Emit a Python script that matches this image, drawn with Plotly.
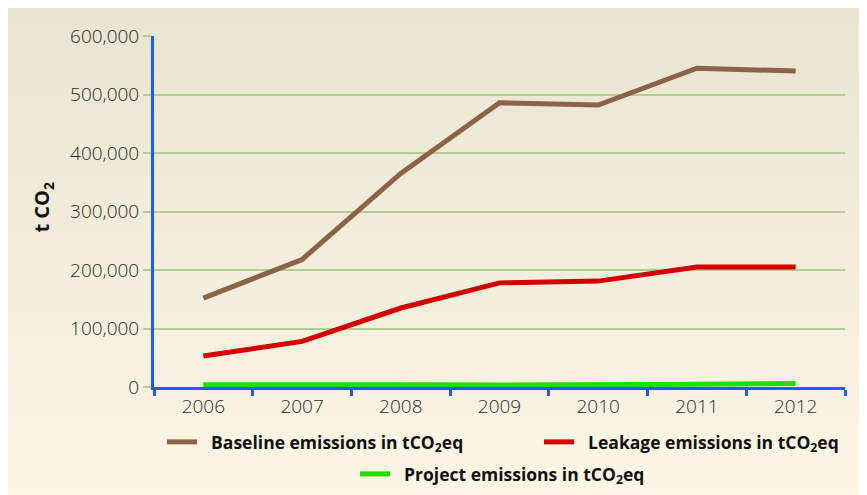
import plotly.graph_objects as go

years = ["2006", "2007", "2008", "2009", "2010", "2011", "2012"]
baseline = [152000, 218000, 365000, 486000, 482000, 545000, 540000]
leakage = [53000, 78000, 135000, 178000, 181000, 205000, 205000]
project = [4000, 5000, 4000, 3500, 3500, 4500, 6000]

# page is offset by 8px (body margin); work in figure coordinates
OFF = 8
W, H = 867, 495
L, T = 154 - OFF, 36 - OFF
R = W - (845 - OFF)
B = H - (388 - OFF)
PW, PH = W - L - R, H - T - B

def px_x(p):  # page pixel -> paper
    return (p - OFF - L) / PW

def px_y(p):
    return (H - B - (p - OFF)) / PH

SP = "\u00a0\u00a0"

fig = go.Figure()

fig.add_trace(go.Scatter(x=years, y=baseline, mode="lines", name=SP + "Baseline emissions in tCO<sub>2</sub>eq",
                         line=dict(color="#8c6249", width=5), legend="legend"))
fig.add_trace(go.Scatter(x=years, y=leakage, mode="lines", name=SP + "Leakage emissions in tCO<sub>2</sub>eq",
                         line=dict(color="#d40000", width=5), legend="legend2"))
fig.add_trace(go.Scatter(x=years, y=project, mode="lines", name=SP + "Project emissions in tCO<sub>2</sub>eq",
                         line=dict(color="#1ee000", width=5), legend="legend3"))

# gradient background
shapes = []
n = 60
top = (231, 229, 209)
bot = (252, 246, 229)
for i in range(n):
    f = i / (n - 1)
    c = tuple(round(top[k] + (bot[k] - top[k]) * f) for k in range(3))
    p0 = H * i / n
    p1 = H * (i + 1) / n + 0.8
    shapes.append(dict(type="rect", xref="paper", yref="paper", layer="below",
                       x0=-L / PW - 0.01, x1=(W - L) / PW + 0.01,
                       y0=(H - B - min(p1, H + 2)) / PH, y1=(H - B - p0) / PH,
                       line=dict(width=0), fillcolor="rgb(%d,%d,%d)" % c))

legfont = dict(family="Open Sans", size=17.5, color="#111111", weight="bold")

def leg(xp, yp):
    return dict(orientation="h", x=px_x(xp), y=px_y(yp), xanchor="left", yanchor="middle",
                bgcolor="rgba(0,0,0,0)", font=legfont, itemwidth=30, visible=True)

fig.update_layout(
    width=W, height=H,
    margin=dict(l=L, r=R, t=T, b=B),
    paper_bgcolor="white",
    plot_bgcolor="rgba(0,0,0,0)",
    shapes=shapes,
    showlegend=True,
    font=dict(family="Open Sans", size=19, color="#2a2a2a"),
    legend=leg(162, 442),
    legend2=leg(539, 442),
    legend3=leg(355, 474),
    xaxis=dict(type="category", range=[-0.5, 6.5], tickson="boundaries", showgrid=False,
               showline=True, linecolor="#1a5cff", linewidth=3,
               ticks="outside", ticklen=6, tickwidth=3, tickcolor="#1a5cff",
               tickfont=dict(family="Open Sans", size=19, color="#2a2a2a", weight=300)),
    yaxis=dict(range=[0, 600000], tickvals=[0, 100000, 200000, 300000, 400000, 500000, 600000],
               tickformat=",", showgrid=True, gridcolor="#b5cc92", gridwidth=1.5,
               zeroline=False, showline=True, linecolor="#1a5cff", linewidth=3,
               ticks="outside", ticklen=8, tickwidth=1.5, tickcolor="#b5cc92",
               tickfont=dict(family="Open Sans", size=19, color="#2a2a2a", weight=300)),
    annotations=[dict(text="<b>t CO<sub>2</sub></b>", xref="paper", yref="paper",
                      x=px_x(43), y=px_y(208), xanchor="center", yanchor="middle",
                      textangle=-90, showarrow=False,
                      font=dict(family="Open Sans", size=20, color="#111111"))],
)

fig.write_html("out.html")
